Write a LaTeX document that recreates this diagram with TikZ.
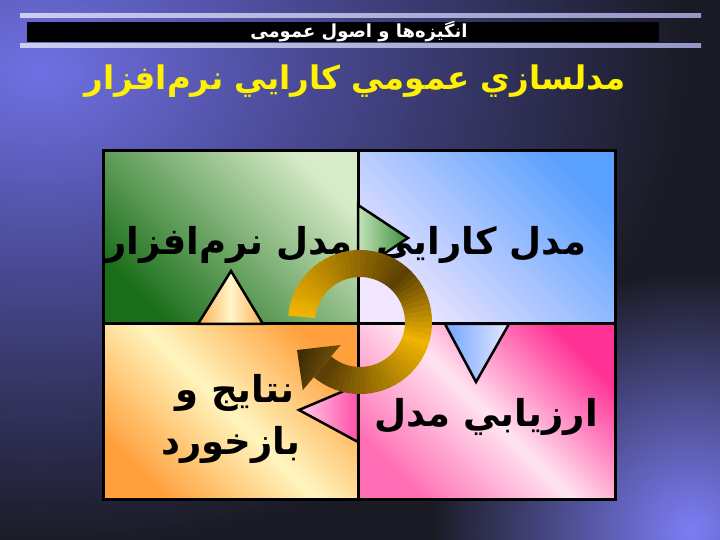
\documentclass[tikz,border=0pt]{standalone}
\usepackage{fontspec}
\newfontfamily\fa[Script=Arabic]{DejaVu Sans}
\TeXXeTstate=1
\definecolor{bgL}{RGB}{112,112,228}
\definecolor{bgM}{RGB}{74,74,150}
\definecolor{bgD}{RGB}{26,26,36}
\definecolor{glowB}{RGB}{125,125,245}
\definecolor{hlA}{RGB}{205,205,240}
\definecolor{hlB}{RGB}{150,150,200}
\definecolor{gnD}{RGB}{25,110,25}
\definecolor{gnL}{RGB}{215,235,200}
\definecolor{blL}{RGB}{240,230,255}
\definecolor{blD}{RGB}{90,160,255}
\definecolor{orO}{RGB}{255,160,60}
\definecolor{orP}{RGB}{255,245,190}
\definecolor{pkH}{RGB}{255,50,150}
\definecolor{pkP}{RGB}{255,228,240}
\definecolor{pkB}{RGB}{255,110,180}
\definecolor{tgL}{RGB}{195,228,185}
\definecolor{tgD}{RGB}{60,140,60}
\definecolor{toO}{RGB}{255,175,85}
\definecolor{toP}{RGB}{255,245,200}
\definecolor{tbB}{RGB}{115,165,255}
\definecolor{tbL}{RGB}{232,232,255}
\definecolor{tpL}{RGB}{255,205,232}
\definecolor{tpH}{RGB}{255,80,170}
\definecolor{gB}{RGB}{240,180,0}
\definecolor{gD}{RGB}{92,64,4}
\definecolor{ahD}{RGB}{62,44,4}
\definecolor{ahM}{RGB}{128,92,8}
\pgfdeclareradialshading{glowTL}{\pgfpoint{0bp}{0bp}}{color(0bp)=(bgL); color(10bp)=(bgM); color(25bp)=(bgD); color(50bp)=(bgD)}
\pgfdeclareradialshading{glowBR}{\pgfpoint{0bp}{0bp}}{color(0bp)=(glowB); color(25bp)=(bgD); color(50bp)=(bgD)}
\tikzset{
  quadline/.style={draw=black, line width=3pt},
  tri/.style={draw=black, line width=2.5pt, line join=miter},
  lbl/.style={font=\fa\bfseries\fontsize{37}{43}\selectfont, text=black, inner sep=0pt, anchor=base},
  ttl/.style={font=\fa\bfseries\fontsize{32.5}{38}\selectfont, text=yellow, inner sep=0pt, anchor=base},
  hdr/.style={font=\fa\bfseries\fontsize{18}{20}\selectfont, text=white, inner sep=0pt, anchor=base}
}
\begin{document}
\begin{tikzpicture}[x=1pt,y=1pt]
\useasboundingbox (0,0) rectangle (720,540);
% background
\fill[bgD] (0,0) rectangle (720,540);
\begin{scope}
\clip (0,0) rectangle (720,540);
\shade[shading=glowTL] (40,470) ellipse [x radius=650, y radius=480];
\shade[shading=glowBR] (690,10) circle [radius=260];
\end{scope}
% header
\shade[left color=hlA, right color=hlB] (20,522.5) rectangle (701,526);
\fill[black] (27,498) rectangle (659,518);
\shade[left color=hlA, right color=hlB] (20,492.7) rectangle (701,496.7);
\node[hdr] (hdr) at (359,502) {\beginR انگیزه‌ها و اصول عمومی\endR};
% title
\node[ttl] (title) at (355,450) {\beginR مدلسازي عمومي كارايي نرم‌افزار\endR};
% quadrants
\shade[top color=gnL, bottom color=gnD, shading angle=-45] (103,216) rectangle (358,389);
\shade[top color=blD, bottom color=blL, shading angle=-45] (358,216) rectangle (615,389);
\shade[top color=orO, bottom color=orO, middle color=orP, shading angle=-45] (103,40) rectangle (358,216);
\shade[top color=pkH, bottom color=pkB, middle color=pkP, shading angle=-45] (358,40) rectangle (615,216);
\draw[quadline] (103,40) rectangle (615,389);
\draw[quadline] (358,40) -- (358,389);
\draw[quadline] (103,216) -- (615,216);
% triangles
\shadedraw[tri, left color=tgL, right color=tgD] (358,335) -- (408,302) -- (358,269) -- cycle;
\shadedraw[tri, left color=toO, right color=toO, middle color=toP] (198,216) -- (231,269) -- (263,216) -- cycle;
\shadedraw[tri, left color=tbB, right color=tbL] (445,216) -- (476,158) -- (509,216) -- cycle;
\shadedraw[tri, left color=tpL, right color=tpH] (358,155) -- (299,130) -- (358,98) -- cycle;
% labels
\node[lbl] (soft) at (229,285) {\beginR مدل نرم‌افزار\endR};
\node[lbl] (perf) at (481,285) {\beginR مدل كارايي\endR};
\node[lbl] (eval) at (486,113) {\beginR ارزيابي مدل\endR};
\node[lbl] (res1) at (235,137) {\beginR نتايج و\endR};
\node[lbl] (res2) at (231,85) {\beginR بازخورد\endR};
% circular arrow
\begin{scope}[shift={(360,218)}]
\foreach \a/\t in {175/100,170/96,165/92,160/88,155/84,150/80,145/76,140/72,135/68,130/64,125/60,120/56,115/52,110/48,105/44,100/40,95/36,90/32,85/28,80/24,75/20,70/16,65/12,60/8,55/4,50/0,45/8,40/15,35/23,30/31,25/38,20/46,15/54,10/62,5/69,0/77,-5/85,-10/92,-15/100,-20/95,-25/90,-30/86,-35/81,-40/76,-45/71,-50/67,-55/62,-60/57,-65/52,-70/48,-75/43,-80/38,-85/33,-90/29,-95/24,-100/19,-105/14,-110/10,-115/5,-120/0,-125/0}{
  \pgfmathsetmacro\ab{max(-130,\a-5.7)}
  \fill[gB!\t!gD] (\a:72) arc[start angle=\a, end angle=\ab, radius=72] -- (\ab:45) arc[start angle=\ab, end angle=\a, radius=45] -- cycle;
}
\shade[left color=ahD, right color=ahM, shading angle=70] (-130:30) -- (-63,-28) -- (-130:89) -- cycle;
\end{scope}
\end{tikzpicture}
\end{document}
